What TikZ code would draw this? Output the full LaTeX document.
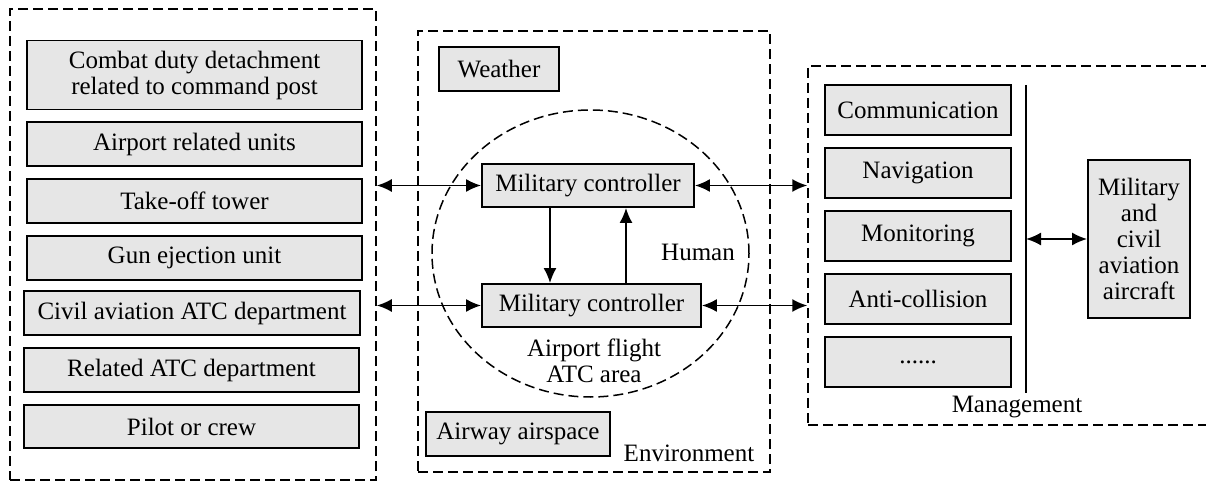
\documentclass[tikz,border=0pt]{standalone}
\usepackage{fontspec}
\setmainfont{Liberation Serif}
\usepackage{tikz}
\usetikzlibrary{arrows,arrows.meta,shapes,calc}

\definecolor{boxgray}{RGB}{230,230,230}

\tikzset{
	unit/.style={draw, fill=boxgray, line width=0.9pt, inner sep=0pt, align=center},
	region/.style={draw, dash pattern=on 5pt off 2.5pt, line width=0.75pt, inner sep=0pt},
	link/.style={<->, line width=0.9pt},
	flow/.style={->, line width=0.9pt},
	tag/.style={inner sep=0pt, align=center}
}

\begin{document}
\begin{tikzpicture}[x=0.5pt, y=-0.5pt, >={Latex[length=7.5pt,width=6.5pt]}, font=\fontsize{12.5}{13}\selectfont]
	
	\useasboundingbox (0,0) rectangle (1206,481);
	
	% regions
	\node[region, minimum width=183pt, minimum height=235.5pt] (org) at (193,244.5) {};
	\node[region, minimum width=176pt, minimum height=220.5pt] (env) at (594,251.5) {};
	\node[region, minimum width=206pt, minimum height=179.5pt] (mgmt) at (1014,245.5) {};
	\node[region, ellipse, minimum width=158.5pt, minimum height=143.5pt] (area) at (590.5,253.5) {};
	
	% units on the left
	\node[unit, minimum width=167.5pt, minimum height=34.5pt] (combat) at (194.5,75) {Combat duty detachment\\related to command post};
	\node[unit, minimum width=167.5pt, minimum height=22pt] (airport) at (194.5,144) {Airport related units};
	\node[unit, minimum width=167.5pt, minimum height=22pt] (tower) at (194.5,201) {Take-off tower};
	\node[unit, minimum width=167.5pt, minimum height=22pt] (gun) at (194.5,258) {Gun ejection unit};
	\node[unit, minimum width=168pt, minimum height=22pt] (civil) at (192,313) {Civil aviation ATC department};
	\node[unit, minimum width=167.5pt, minimum height=22pt] (related) at (191.5,370) {Related ATC department};
	\node[unit, minimum width=167.5pt, minimum height=21.5pt] (pilot) at (191.5,426.5) {Pilot or crew};
	
	% environment and human
	\node[unit, minimum width=60pt, minimum height=22pt] (weather) at (499,69) {Weather};
	\node[unit, minimum width=106pt, minimum height=21.5pt] (mc1) at (588,185.5) {Military controller};
	\node[unit, minimum width=109.5pt, minimum height=21.5pt] (mc2) at (591.5,305.5) {Military controller};
	\node[unit, minimum width=92pt, minimum height=22pt] (airway) at (518,434) {Airway airspace};
	\node[tag] (human) at (698,252) {Human};
	\node[tag] (arealbl) at (594,361) {Airport flight\\ATC area};
	\node[tag] (envlbl) at (689,453) {Environment};
	
	% management
	\node[unit, minimum width=93pt, minimum height=25pt] (comm) at (918,110) {Communication};
	\node[unit, minimum width=93pt, minimum height=25pt] (nav) at (918,173) {Navigation};
	\node[unit, minimum width=93pt, minimum height=25pt] (mon) at (918,236) {Monitoring};
	\node[unit, minimum width=93pt, minimum height=25pt] (anti) at (918,299) {Anti-collision};
	\node[unit, minimum width=93pt, minimum height=25pt] (more) at (918,362) {......};
	\node[tag] (mgmtlbl) at (1017,407) {Management};
	\node[unit, minimum width=51pt, minimum height=79pt] (aircraft) at (1139,239) {Military\\and\\civil\\aviation\\aircraft};
	
	\coordinate (bartop) at (1026,85);
	\coordinate (barbot) at (1026,393);
	\coordinate (dn) at (550,0);
	\coordinate (up) at (626,0);
	
	\draw[line width=0.9pt] (bartop) -- (barbot);
	
	% connectors
	\draw[link] (org.east |- mc1.west) -- (mc1.west);
	\draw[link] (org.east |- mc2.west) -- (mc2.west);
	\draw[link] (mc1.east) -- (mc1.east -| mgmt.west);
	\draw[link] (mc2.east) -- (mc2.east -| mgmt.west);
	\draw[flow] (mc1.south -| dn) -- (mc2.north -| dn);
	\draw[flow] (mc2.north -| up) -- (mc1.south -| up);
	\draw[link] (aircraft.west -| bartop) -- (aircraft.west);
	
\end{tikzpicture}
\end{document}
